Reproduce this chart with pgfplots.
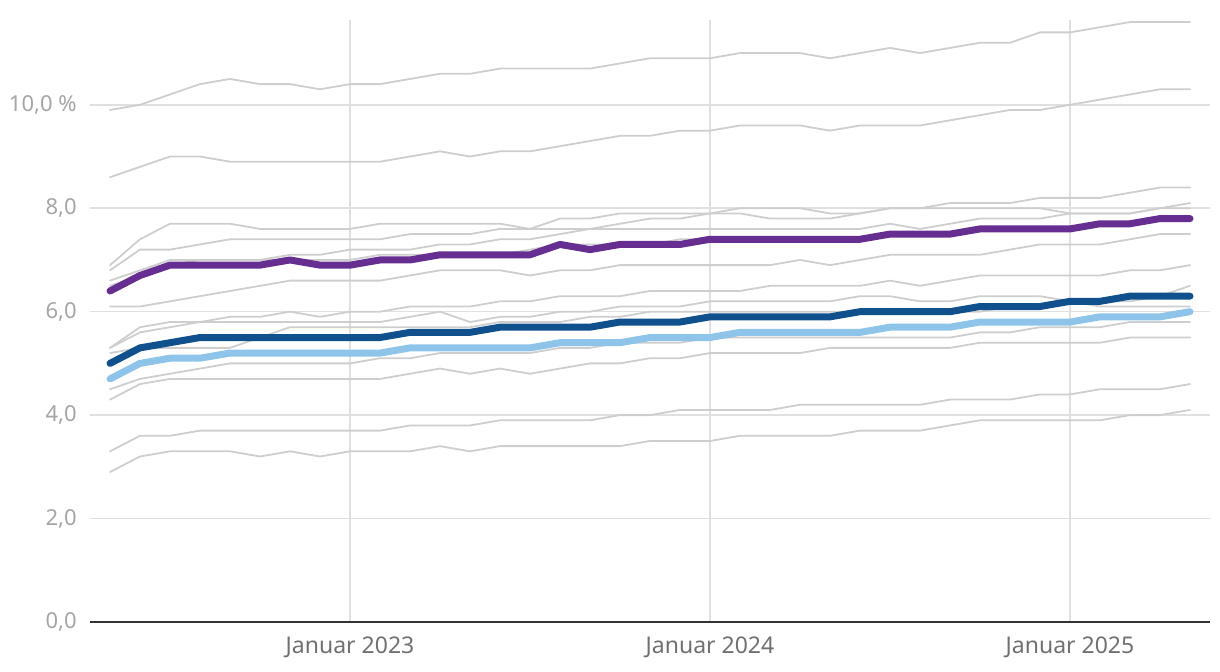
\documentclass[border=0pt]{standalone}
\usepackage{pgfplots}
\pgfplotsset{compat=1.18}
\usepackage{pgfplotstable}
\usepackage{fontspec}
\setmainfont{Noto Sans}

\definecolor{gridgray}{RGB}{224,224,224}
\definecolor{linegray}{RGB}{206,206,206}
\definecolor{ylab}{RGB}{165,165,165}
\definecolor{xlab}{RGB}{112,112,112}
\definecolor{cpurple}{RGB}{103,46,145}
\definecolor{cdark}{RGB}{16,80,140}
\definecolor{clight}{RGB}{142,196,234}

% monthly values, May 2022 (i=0) to May 2025 (i=36)
\pgfplotstableread{
i  A    B    G1  G2  G3  G4  G5  G6  G7  G8  G9  G10 Y   Z   P   DB  LB
0  9.9  8.6  6.9 6.8 6.6 6.5 6.1 5.3 5.3 5.2 4.5 4.3 3.3 2.9 6.4 5.0 4.7
1  10.0 8.8  7.4 7.2 6.8 6.7 6.1 5.7 5.6 5.3 4.7 4.6 3.6 3.2 6.7 5.3 5.0
2  10.2 9.0  7.7 7.2 7.0 6.9 6.2 5.8 5.7 5.3 4.8 4.7 3.6 3.3 6.9 5.4 5.1
3  10.4 9.0  7.7 7.3 7.0 7.0 6.3 5.8 5.8 5.3 4.9 4.7 3.7 3.3 6.9 5.5 5.1
4  10.5 8.9  7.7 7.4 7.0 7.0 6.4 5.9 5.8 5.3 5.0 4.7 3.7 3.3 6.9 5.5 5.2
5  10.4 8.9  7.6 7.4 7.0 7.0 6.5 5.9 5.8 5.5 5.0 4.7 3.7 3.2 6.9 5.5 5.2
6  10.4 8.9  7.6 7.4 7.1 7.0 6.6 6.0 5.8 5.7 5.0 4.7 3.7 3.3 7.0 5.5 5.2
7  10.3 8.9  7.6 7.4 7.1 7.0 6.6 5.9 5.8 5.7 5.0 4.7 3.7 3.2 6.9 5.5 5.2
8  10.4 8.9  7.6 7.4 7.2 7.0 6.6 6.0 5.8 5.7 5.0 4.7 3.7 3.3 6.9 5.5 5.2
9  10.4 8.9  7.7 7.4 7.2 7.1 6.6 6.0 5.8 5.7 5.1 4.7 3.7 3.3 7.0 5.5 5.2
10 10.5 9.0  7.7 7.5 7.2 7.1 6.7 6.1 5.9 5.7 5.1 4.8 3.8 3.3 7.0 5.6 5.3
11 10.6 9.1  7.7 7.5 7.3 7.1 6.8 6.1 6.0 5.7 5.2 4.9 3.8 3.4 7.1 5.6 5.3
12 10.6 9.0  7.7 7.5 7.3 7.1 6.8 6.1 5.8 5.7 5.2 4.8 3.8 3.3 7.1 5.6 5.3
13 10.7 9.1  7.7 7.6 7.4 7.1 6.8 6.2 5.9 5.8 5.2 4.9 3.9 3.4 7.1 5.7 5.3
14 10.7 9.1  7.6 7.6 7.4 7.2 6.7 6.2 5.9 5.8 5.2 4.8 3.9 3.4 7.1 5.7 5.3
15 10.7 9.2  7.8 7.6 7.5 7.3 6.8 6.3 6.0 5.8 5.3 4.9 3.9 3.4 7.3 5.7 5.4
16 10.7 9.3  7.8 7.6 7.6 7.3 6.8 6.3 6.0 5.9 5.3 5.0 3.9 3.4 7.2 5.7 5.4
17 10.8 9.4  7.9 7.7 7.6 7.3 6.9 6.3 6.1 5.9 5.4 5.0 4.0 3.4 7.3 5.8 5.4
18 10.9 9.4  7.9 7.8 7.6 7.3 6.9 6.4 6.1 6.0 5.4 5.1 4.0 3.5 7.3 5.8 5.5
19 10.9 9.5  7.9 7.8 7.6 7.4 6.9 6.4 6.1 6.0 5.4 5.1 4.1 3.5 7.3 5.8 5.5
20 10.9 9.5  7.9 7.9 7.6 7.4 6.9 6.4 6.2 6.0 5.5 5.2 4.1 3.5 7.4 5.9 5.5
21 11.0 9.6  8.0 7.9 7.6 7.4 6.9 6.4 6.2 6.0 5.5 5.2 4.1 3.6 7.4 5.9 5.6
22 11.0 9.6  8.0 7.8 7.6 7.4 6.9 6.5 6.2 6.0 5.5 5.2 4.1 3.6 7.4 5.9 5.6
23 11.0 9.6  8.0 7.8 7.6 7.4 7.0 6.5 6.2 6.0 5.5 5.2 4.2 3.6 7.4 5.9 5.6
24 10.9 9.5  7.9 7.8 7.6 7.4 6.9 6.5 6.2 6.0 5.5 5.3 4.2 3.6 7.4 5.9 5.6
25 11.0 9.6  7.9 7.9 7.6 7.4 7.0 6.5 6.3 6.0 5.5 5.3 4.2 3.7 7.4 6.0 5.6
26 11.1 9.6  8.0 8.0 7.7 7.5 7.1 6.6 6.3 6.0 5.5 5.3 4.2 3.7 7.5 6.0 5.7
27 11.0 9.6  8.0 8.0 7.6 7.5 7.1 6.5 6.2 6.0 5.5 5.3 4.2 3.7 7.5 6.0 5.7
28 11.1 9.7  8.0 8.1 7.7 7.5 7.1 6.6 6.2 6.0 5.5 5.3 4.3 3.8 7.5 6.0 5.7
29 11.2 9.8  8.0 8.1 7.8 7.6 7.1 6.7 6.3 6.0 5.6 5.4 4.3 3.9 7.6 6.1 5.8
30 11.2 9.9  8.0 8.1 7.8 7.6 7.2 6.7 6.3 6.1 5.6 5.4 4.3 3.9 7.6 6.1 5.8
31 11.4 9.9  8.0 8.2 7.8 7.6 7.3 6.7 6.3 6.1 5.7 5.4 4.4 3.9 7.6 6.1 5.8
32 11.4 10.0 7.9 8.2 7.9 7.6 7.3 6.7 6.2 6.2 5.7 5.4 4.4 3.9 7.6 6.2 5.8
33 11.5 10.1 7.9 8.2 7.9 7.7 7.3 6.7 6.1 6.2 5.7 5.4 4.5 3.9 7.7 6.2 5.9
34 11.6 10.2 7.9 8.3 7.9 7.7 7.4 6.8 6.1 6.2 5.8 5.5 4.5 4.0 7.7 6.3 5.9
35 11.6 10.3 8.0 8.4 8.0 7.8 7.5 6.8 6.1 6.3 5.8 5.5 4.5 4.0 7.8 6.3 5.9
36 11.6 10.3 8.1 8.4 8.0 7.8 7.5 6.9 6.1 6.5 5.8 5.5 4.6 4.1 7.8 6.3 6.0
}\rates

\begin{document}
\begin{tikzpicture}
\begin{axis}[
  name=ax,
  width=560pt, height=301pt, scale only axis,
  xmin=-0.667, xmax=36.667, ymin=0, ymax=11.64,
  axis x line=bottom, axis y line=left,
  x axis line style={-, draw=black!80, line width=1pt},
  y axis line style={draw=none},
  major tick length=0pt,
  xtick={8,20,32},
  xticklabels={Januar 2023, Januar 2024, Januar 2025},
  ytick={0,2,4,6,8,10},
  yticklabels={{0,0},{2,0},{4,0},{6,0},{8,0},{10,0 \%}},
  xmajorgrids, ymajorgrids,
  grid style={gridgray, line width=0.75pt},
  yticklabel style={font=\fontsize{11}{13}\selectfont, text=ylab, inner sep=0pt, xshift=-6.5pt},
  xticklabel style={font=\fontsize{11.5}{13}\selectfont, text=xlab, inner sep=0pt, yshift=-7pt},
  every axis plot/.append style={line join=round, line cap=round},
  grey/.style={linegray, line width=0.9pt},
  clip=false,
]
\addplot[grey] table[x=i, y=A] {\rates};
\addplot[grey] table[x=i, y=B] {\rates};
\addplot[grey] table[x=i, y=G1] {\rates};
\addplot[grey] table[x=i, y=G2] {\rates};
\addplot[grey] table[x=i, y=G3] {\rates};
\addplot[grey] table[x=i, y=G4] {\rates};
\addplot[grey] table[x=i, y=G5] {\rates};
\addplot[grey] table[x=i, y=G6] {\rates};
\addplot[grey] table[x=i, y=G7] {\rates};
\addplot[grey] table[x=i, y=G8] {\rates};
\addplot[grey] table[x=i, y=G9] {\rates};
\addplot[grey] table[x=i, y=G10] {\rates};
\addplot[grey] table[x=i, y=Y] {\rates};
\addplot[grey] table[x=i, y=Z] {\rates};
\addplot[clight, line width=3.5pt] table[x=i, y=LB] {\rates};
\addplot[cdark, line width=3.5pt] table[x=i, y=DB] {\rates};
\addplot[cpurple, line width=3.5pt] table[x=i, y=P] {\rates};
\end{axis}
\pgfresetboundingbox
\path ([xshift=-45pt,yshift=-25pt]ax.south west) rectangle ([xshift=5pt,yshift=10pt]ax.north east);
\end{tikzpicture}
\end{document}
